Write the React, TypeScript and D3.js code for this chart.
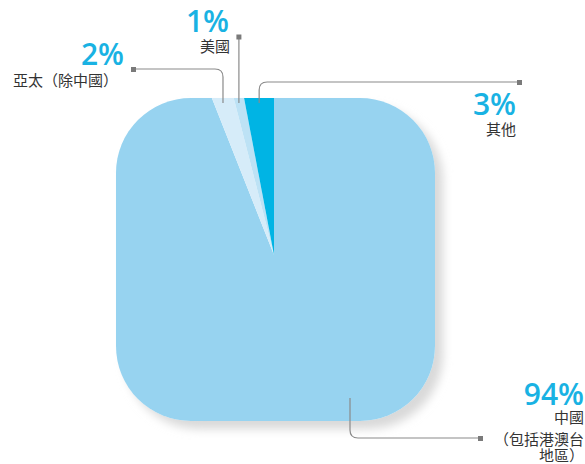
import React from "react";
import * as d3 from "d3";

const categories = ["中國（包括港澳台地區）", "亞太（除中國）", "美國", "其他"];
const values = [94, 2, 1, 3];
const colors = ["#97d3f0", "#d6ecf9", "#bde2f5", "#00b4e4"];

const W = 585, H = 464;
const rect = { x: 116, y: 98, w: 319, h: 323, r: 75 };
const cx = 274, cy = 255;

export default function App() {
  const pie = d3.pie<number>().sort(null).value((d) => d);
  const arcs = pie(values);
  const arcGen = d3.arc<d3.PieArcDatum<number>>().innerRadius(0).outerRadius(400);
  const topX = (a: d3.PieArcDatum<number>) => {
    const m = (a.startAngle + a.endAngle) / 2;
    return cx + Math.tan(m) * (cy - rect.y);
  };
  const blue = "#19b2e3";
  const lineC = "#8a8a8a";
  const pctFont = "'Open Sans', 'Noto Sans', sans-serif";
  const cjk = "'Noto Sans CJK TC', 'Noto Sans', sans-serif";
  const xAp = topX(arcs[1]);
  const xUs = topX(arcs[2]);
  const xOt = topX(arcs[3]);
  const rr = 8;
  return (
    <svg width={W} height={H} style={{ position: "absolute", left: 0, top: 0 }}>
      <defs>
        <clipPath id="shape">
          <rect x={rect.x} y={rect.y} width={rect.w} height={rect.h} rx={rect.r} ry={rect.r} />
        </clipPath>
        <filter id="blur" x="-20%" y="-20%" width="140%" height="140%">
          <feGaussianBlur stdDeviation="5" />
        </filter>
      </defs>
      <rect x={rect.x + 8} y={rect.y + 8} width={rect.w} height={rect.h} rx={rect.r} ry={rect.r}
        fill="#d9d9d9" filter="url(#blur)" />
      <rect x={rect.x} y={rect.y} width={rect.w} height={rect.h} rx={rect.r} ry={rect.r} fill="#fff" />
      <g clipPath="url(#shape)">
        {arcs.map((a, i) => (
          <path key={i} d={arcGen(a) || ""} transform={`translate(${cx},${cy})`} fill={colors[i]} />
        ))}
      </g>
      <g fill="none" stroke={lineC} strokeWidth={1.2}>
        <path d={`M133,69 H${xAp - rr} Q${xAp},69 ${xAp},${69 + rr} V103`} />
        <path d={`M${xUs},37 V103`} />
        <path d={`M519,82 H${xOt + rr} Q${xOt},82 ${xOt},${82 + rr} V103`} />
        <path d={`M350,398 V${438 - rr} Q350,438 ${350 + rr},438 H480`} />
      </g>
      <g fill="#7a7a7a">
        <rect x={131} y={67} width={5} height={5} />
        <rect x={xUs - 2.5} y={34.5} width={5} height={5} />
        <rect x={517} y={80} width={5} height={5} />
        <rect x={478} y={436} width={5} height={5} />
      </g>
      <g fontFamily={pctFont} fontWeight={600} fill={blue} fontSize={30} textAnchor="end">
        <text x={229} y={32}>{values[2]}%</text>
        <text x={124} y={65}>{values[1]}%</text>
        <text x={516} y={115}>{values[3]}%</text>
        <text x={584} y={405}>{values[0]}%</text>
      </g>
      <g fontFamily={cjk} fill="#333" fontSize={15} textAnchor="end">
        <text x={230} y={52}>美國</text>
        <text x={118} y={86}>亞太（除中國）</text>
        <text x={516} y={135}>其他</text>
        <text x={584} y={423}>中國</text>
        <text x={584} y={445}>（包括港澳台</text>
        <text x={584} y={461}>地區）</text>
      </g>
    </svg>
  );
}
